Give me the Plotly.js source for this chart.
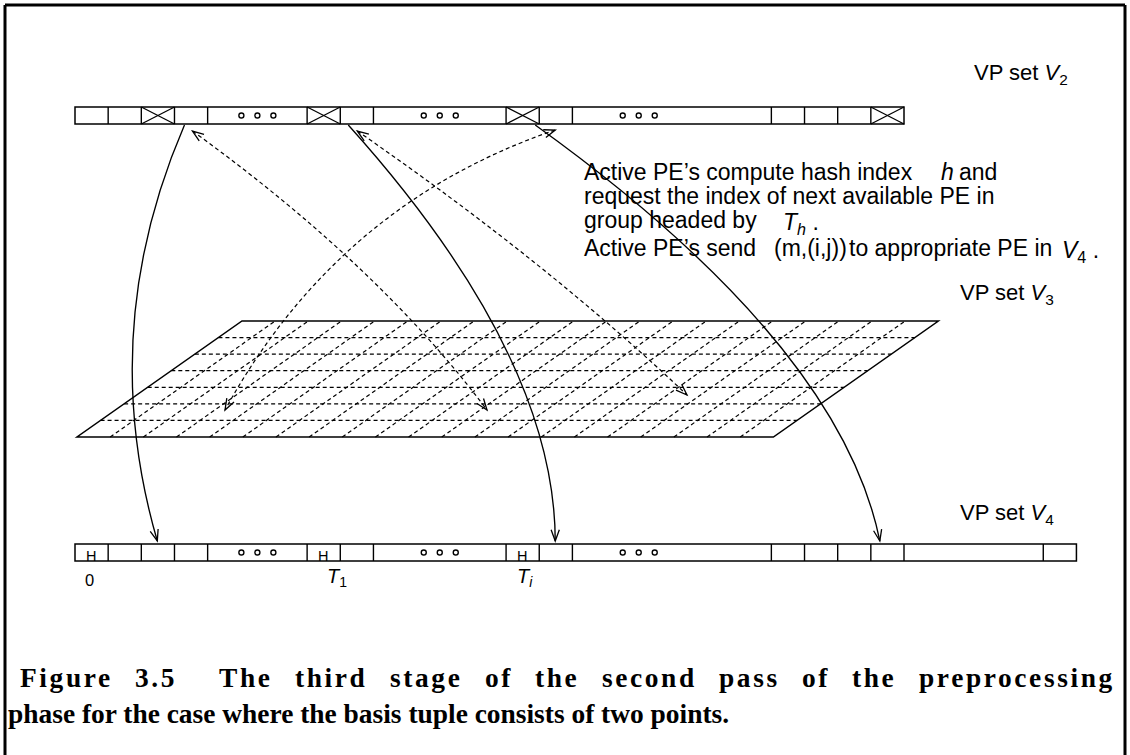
<!DOCTYPE html>
<html><head><meta charset="utf-8">
<script src="https://cdn.plot.ly/plotly-3.0.1.min.js"></script>
<style>html,body{margin:0;padding:0;background:#fff;}#plot{width:1130px;height:755px;}</style>
</head><body><div id="plot"></div>
<script>
// ---------------- data ----------------
const v2Boundaries = [0,1,2,3,4,7,8,9,13,14,15,21,22,23,24,25];
const v2CrossedCells = [2,7,13,24];
const v4Boundaries = [0,1,2,3,4,7,8,9,13,14,15,21,22,23,24,25,29.2,30.2];
const v4HeadCells = [0,7,13];
const ellipsisCells = [5.5,11,17];
const v4IndexLabels = ['0','<i>T</i><sub>1</sub>','<i>T</i><sub><i>i</i></sub>'];
const v4IndexCells = [0,7,13];
const sendFromV2 = [3,8,14];
const sendToV4 = [2,14,24];
const gridColumns = 21;
const gridRows = 7;
const setLabels = ['VP set <i>V</i><sub>2</sub>','VP set <i>V</i><sub>3</sub>','VP set <i>V</i><sub>4</sub>'];
const noteLine1 = ['Active PE’s compute hash index','<i>h</i>','and'];
const noteLine2 = ['request the index of next available PE in'];
const noteLine3 = ['group headed by','<i>T</i><sub><i>h</i></sub> .'];
const noteLine4 = ['Active PE’s send','(m,(i,j))','to appropriate PE in','<i>V</i><sub>4</sub> .'];
const captionLines = ['Figure 3.5  The third stage of the second pass of the preprocessing',
                      'phase for the case where the basis tuple consists of two points.'];

// ---------------- geometry ----------------
const X0 = 75, CW = 33.16;
const cx = i => X0 + CW * i;
const V2T = 107, V2B = 124, V4T = 544, V4B = 561;
const G = {x0: 77, top: 321, bot: 437, shift: 165};
const BLACK = '#000';
const SANS = 'Liberation Sans, Arial, Helvetica, sans-serif';
const SERIF = 'Liberation Serif, Times New Roman, serif';
const DOTS = '4px,3px';

const cnv = document.createElement('canvas').getContext('2d');
function measure(t, font){ cnv.font = font; return cnv.measureText(t).width; }

const shapes = [];
function line(x0,y0,x1,y1,w,dash){ shapes.push({type:'line',xref:'x',yref:'y',x0,y0,x1,y1,line:{color:BLACK,width:w||1.4,dash:dash||'solid'}}); }
function path(p,w,dash){ shapes.push({type:'path',xref:'x',yref:'y',path:p,line:{color:BLACK,width:w||1.3,dash:dash||'solid'}}); }

// frame
line(5,5,1125,5,3); line(5,5,5,755,3); line(1125,5,1125,755,3);

function row(bounds, top, bot){
  const a = cx(bounds[0]), b = cx(bounds[bounds.length-1]);
  shapes.push({type:'rect',xref:'x',yref:'y',x0:a,x1:b,y0:top,y1:bot,line:{color:BLACK,width:1.5}});
  bounds.slice(1,-1).forEach(v => line(cx(v),top,cx(v),bot,1.4));
}
row(v2Boundaries, V2T, V2B);
row(v4Boundaries, V4T, V4B);
v2CrossedCells.forEach(c => { line(cx(c),V2T,cx(c+1),V2B,1.3); line(cx(c),V2B,cx(c+1),V2T,1.3); });

// parallelogram grid (V3)
const GW = CW * gridColumns;
path(`M${G.x0},${G.bot} L${G.x0+GW},${G.bot} L${G.x0+GW+G.shift},${G.top} L${G.x0+G.shift},${G.top} Z`,1.5);
for (let k=1;k<gridColumns;k++){
  line(G.x0+k*CW, G.bot, G.x0+k*CW+G.shift, G.top, 1.2, DOTS);
}
for (let j=1;j<gridRows;j++){
  const y = G.top + j*(G.bot-G.top)/gridRows;
  const off = G.shift*(G.bot-y)/(G.bot-G.top);
  line(G.x0+off, y, G.x0+GW+off, y, 1.2, DOTS);
}

// arrow heads
function head(tip, dir, len, ang){
  len = len||12; ang = (ang||20)*Math.PI/180;
  const n = Math.hypot(dir[0],dir[1]); const d=[dir[0]/n,dir[1]/n];
  const r = a => [d[0]*Math.cos(a)-d[1]*Math.sin(a), d[0]*Math.sin(a)+d[1]*Math.cos(a)];
  const p = r(ang), q = r(-ang);
  path(`M${tip[0]-len*p[0]},${tip[1]-len*p[1]} L${tip[0]},${tip[1]} L${tip[0]-len*q[0]},${tip[1]-len*q[1]}`,1.3);
}

// solid curves V2 -> V4
const solidStartOff = [10,8,-4];
const solidEndOff = [16,16,9];
const solidCtrl = [[96,330],[555,355],[840,344]];
sendFromV2.forEach((c,i)=>{
  const s=[cx(c)+solidStartOff[i], V2B+1], e=[cx(sendToV4[i])+solidEndOff[i], V4T-3], k=solidCtrl[i];
  path(`M${s[0]},${s[1]} Q${k[0]},${k[1]} ${e[0]},${e[1]}`,1.35);
  head(e,[e[0]-k[0],e[1]-k[1]],12,20);
});

// dotted curves V2 <-> V3
const dotted = [
  {s:[cx(3)+18,131], k:[379,266], e:[487,410]},
  {s:[cx(8)+17,131], k:[548,263], e:[687,395]},
  {s:[cx(14)+16,130], k:[338,204], e:[225,410]}
];
dotted.forEach(o=>{
  path(`M${o.s[0]},${o.s[1]} Q${o.k[0]},${o.k[1]} ${o.e[0]},${o.e[1]}`,1.2,DOTS);
  head(o.s,[o.s[0]-o.k[0],o.s[1]-o.k[1]],12,20);
  head(o.e,[o.e[0]-o.k[0],o.e[1]-o.k[1]],12,20);
});

// ellipsis dots as a scatter trace
const dotX=[], dotY=[];
ellipsisCells.forEach(c=>{ [-16,0,16].forEach(o=>{ dotX.push(cx(c)+o); dotY.push((V2T+V2B)/2); dotX.push(cx(c)+o); dotY.push((V4T+V4B)/2); }); });
const traces = [{x:dotX,y:dotY,mode:'markers',type:'scatter',hoverinfo:'skip',
  marker:{symbol:'circle-open',size:5,color:BLACK,line:{width:1.4,color:BLACK}}}];

// annotations
const ann = [];
function txt(x,y,t,size,xa,fam,weight){ ann.push({x,y,xref:'x',yref:'y',text:t,showarrow:false,xanchor:xa||'left',yanchor:'middle',align:'left',
  font:{family:fam||SANS,size:size||23,color:BLACK,weight:weight||'normal'}}); return ann.length-1; }

txt(972,74,setLabels[0],22);
txt(958,294,setLabels[1],22);
txt(958,514,setLabels[2],22);
v4HeadCells.forEach(c=>txt(cx(c)+CW/2-1,556,'H',14.5,'center'));
const idxOff = [8,18,9];
v4IndexCells.forEach((c,i)=>txt(cx(c)+idxOff[i],i===0?580:577,v4IndexLabels[i],i===0?16.5:20,'left'));

const F = 23;
txt(582,172,noteLine1[0],F); txt(939,172,noteLine1[1],F); txt(957,172,noteLine1[2],F);
txt(582,196,noteLine2[0],F);
txt(582,220,noteLine3[0],F); txt(781,223,noteLine3[1],F);
txt(582,248,noteLine4[0],F); txt(772,248,noteLine4[1],F);
const toX = 847;
txt(toX,248,noteLine4[2],F);
const endTo = toX + measure(noteLine4[2], `${F}px "Liberation Sans"`);
txt(endTo+10,251,noteLine4[3],F);

// caption: line 1 justified (letter + word spacing), line 2 natural width
const capTarget2 = 722;
let CS = 24;
CS = CS * capTarget2 / measure(captionLines[1], `bold ${CS}px "Liberation Serif"`);
const capFont = `bold ${CS}px "Liberation Serif"`;
const LS = 2.6;
const words = captionLines[0].split(/\s+/);
const ww = words.map(w=>measure(w,capFont) + LS*(w.length-1));
const gapW = words.slice(0,-1).map(w=> w==='3.5' ? 1.8 : 1);
const totalGapW = gapW.reduce((a,b)=>a+b,0);
const L1 = 18, R1 = 1110;
const unit = (R1-L1-ww.reduce((a,b)=>a+b,0))/totalGapW;
let xx = L1;
const spacedIdx = [];
words.forEach((w,i)=>{ spacedIdx.push(txt(xx,678,w,CS,'left',SERIF,'bold')); xx += ww[i] + (i<gapW.length?gapW[i]*unit:0); });
txt(6,714,captionLines[1],CS,'left',SERIF,'bold');

const layout = {
  width:1130,height:755,margin:{l:0,r:0,t:0,b:0},paper_bgcolor:'#fff',plot_bgcolor:'#fff',showlegend:false,
  xaxis:{range:[0,1130],visible:false,fixedrange:true},
  yaxis:{range:[755,0],visible:false,fixedrange:true},
  shapes, annotations:ann
};
Plotly.newPlot('plot',traces,layout,{staticPlot:true,displayModeBar:false}).then(gd=>{
  spacedIdx.forEach(i=>{
    const t = gd.querySelector(`g.annotation[data-index="${i}"] text.annotation-text`);
    if (t) t.setAttribute('letter-spacing', LS + 'px');
  });
});
</script></body></html>
